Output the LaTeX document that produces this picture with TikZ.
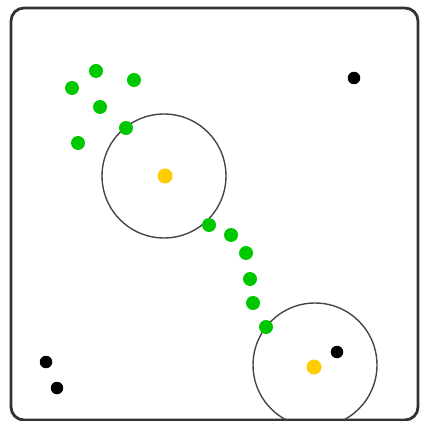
\documentclass[tikz,border=0pt]{standalone}
\definecolor{dotgreen}{RGB}{0,200,0}
\definecolor{dotyellow}{RGB}{255,204,0}
\definecolor{framegray}{RGB}{50,50,50}
\definecolor{ringgray}{RGB}{70,70,70}
\begin{document}
\begin{tikzpicture}[
		x=0.02cm, y=-0.02cm,
		frame/.style={
			draw=framegray,
			line width=1.6pt,
			rounded corners=0.26cm
		},
		ring/.style={
			draw=ringgray,
			circle,
			line width=0.8pt,
			minimum size=2.48cm,
			inner sep=0pt
		},
		member/.style={circle, fill=dotgreen, inner sep=0pt, minimum size=0.28cm},
		center/.style={circle, fill=dotyellow, inner sep=0pt, minimum size=0.3cm},
		other/.style={circle, fill=black, inner sep=0pt, minimum size=0.25cm}
		]
		
		\useasboundingbox (0,0) rectangle (420,421);
		
		% Frame
		\draw[frame] (11,8) rectangle (418,420);
		
		% Ranges around the centres
		\begin{scope}
			\clip[rounded corners=0.26cm] (11,8) rectangle (418,420);
			\node[ring] (range1) at (164,176) {};
			\node[ring] (range2) at (315,365) {};
		\end{scope}
		
		% Centres
		\node[center] (c1) at (165,176) {};
		\node[center] (c2) at (314,367) {};
		
		% Upper group
		\node[member] (g1) at (72,88) {};
		\node[member] (g2) at (96,71) {};
		\node[member] (g3) at (134,80) {};
		\node[member] (g4) at (100,107) {};
		\node[member] (g5) at (126,128) {};
		\node[member] (g6) at (78,143) {};
		
		% Chain between the ranges
		\node[member] (h1) at (209,225) {};
		\node[member] (h2) at (231,235) {};
		\node[member] (h3) at (246,253) {};
		\node[member] (h4) at (250,279) {};
		\node[member] (h5) at (253,303) {};
		\node[member] (h6) at (266,327) {};
		
		% Other points
		\node[other] (o1) at (354,78) {};
		\node[other] (o2) at (337,352) {};
		\node[other] (o3) at (46,362) {};
		\node[other] (o4) at (57,388) {};
		
	\end{tikzpicture}
\end{document}
